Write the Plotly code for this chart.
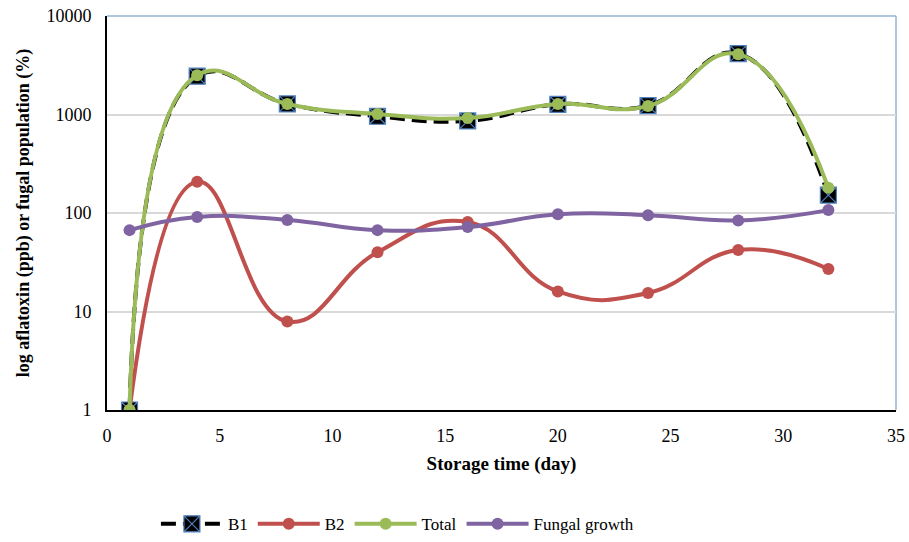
import plotly.graph_objects as go

# Storage time (days) and measured values
days = [1, 4, 8, 12, 16, 20, 24, 28, 32]
b1 = [1, 2450, 1280, 960, 860, 1270, 1230, 4150, 152]
b2 = [1, 208, 7.9, 40, 81, 16, 15.4, 42, 27]
total = [1, 2500, 1280, 1010, 920, 1280, 1220, 4100, 180]
fungal = [67, 91, 85, 67, 72, 97, 95, 84, 107]

y_ticks = [1, 10, 100, 1000, 10000]
x_ticks = [0, 5, 10, 15, 20, 25, 30, 35]

font_family = "Liberation Serif"
SMOOTH = 1.3

fig = go.Figure()

fig.add_trace(go.Scatter(
    x=days, y=b1, name="B1", mode="lines+markers",
    line=dict(color="black", width=4, dash="15px,7px", shape="spline", smoothing=SMOOTH),
    marker=dict(symbol="square-x", size=16, color="black",
                line=dict(color="#4F81BD", width=1.2)),
))
fig.add_trace(go.Scatter(
    x=days, y=b2, name="B2", mode="lines+markers",
    line=dict(color="#C0504D", width=4, shape="spline", smoothing=SMOOTH),
    marker=dict(symbol="circle", size=12, color="#C0504D"),
))
fig.add_trace(go.Scatter(
    x=days, y=total, name="Total", mode="lines+markers",
    line=dict(color="#9BBB59", width=4, shape="spline", smoothing=SMOOTH),
    marker=dict(symbol="circle", size=12, color="#9BBB59"),
))
fig.add_trace(go.Scatter(
    x=days, y=fungal, name="Fungal growth", mode="lines+markers",
    line=dict(color="#8064A2", width=4, shape="spline", smoothing=SMOOTH),
    marker=dict(symbol="circle", size=12, color="#8064A2"),
))

# Light blue frame on the top and right of the plot area
fig.add_shape(type="line", xref="paper", yref="paper", x0=0, x1=1, y0=1, y1=1,
              line=dict(color="#95B3D7", width=1.5), layer="below")
fig.add_shape(type="line", xref="paper", yref="paper", x0=1, x1=1, y0=0, y1=1,
              line=dict(color="#95B3D7", width=1.5), layer="below")

fig.update_layout(
    width=909, height=542,
    margin=dict(l=107, r=13, t=16, b=132, autoexpand=False),
    paper_bgcolor="white", plot_bgcolor="white",
    font=dict(family=font_family, size=18, color="black"),
    showlegend=True,
    legend=dict(orientation="h", x=0.062, xanchor="left", y=-0.29, yanchor="middle",
                font=dict(size=17), itemwidth=62, traceorder="normal"),
    xaxis=dict(
        range=[0, 35], tickvals=x_ticks, ticktext=[str(v) for v in x_ticks],
        showgrid=False, zeroline=False, showline=True, linecolor="black", linewidth=2,
        ticks="", tickfont=dict(size=18), ticklabelstandoff=8, automargin=False,
        title=dict(text="<b>Storage time (day)</b>", font=dict(size=19), standoff=12),
    ),
    yaxis=dict(
        type="log", range=[0, 4], tickvals=y_ticks, ticktext=[str(v) for v in y_ticks],
        showgrid=True, gridcolor="#D9D9D9", gridwidth=1.5,
        zeroline=False, showline=True, linecolor="black", linewidth=2,
        ticks="", tickfont=dict(size=18), ticklabelstandoff=10, automargin=False,
        title=dict(text="<b>log aflatoxin (ppb) or fugal population (%)</b>",
                   font=dict(size=18), standoff=12),
    ),
)

fig.write_html("out.html")
